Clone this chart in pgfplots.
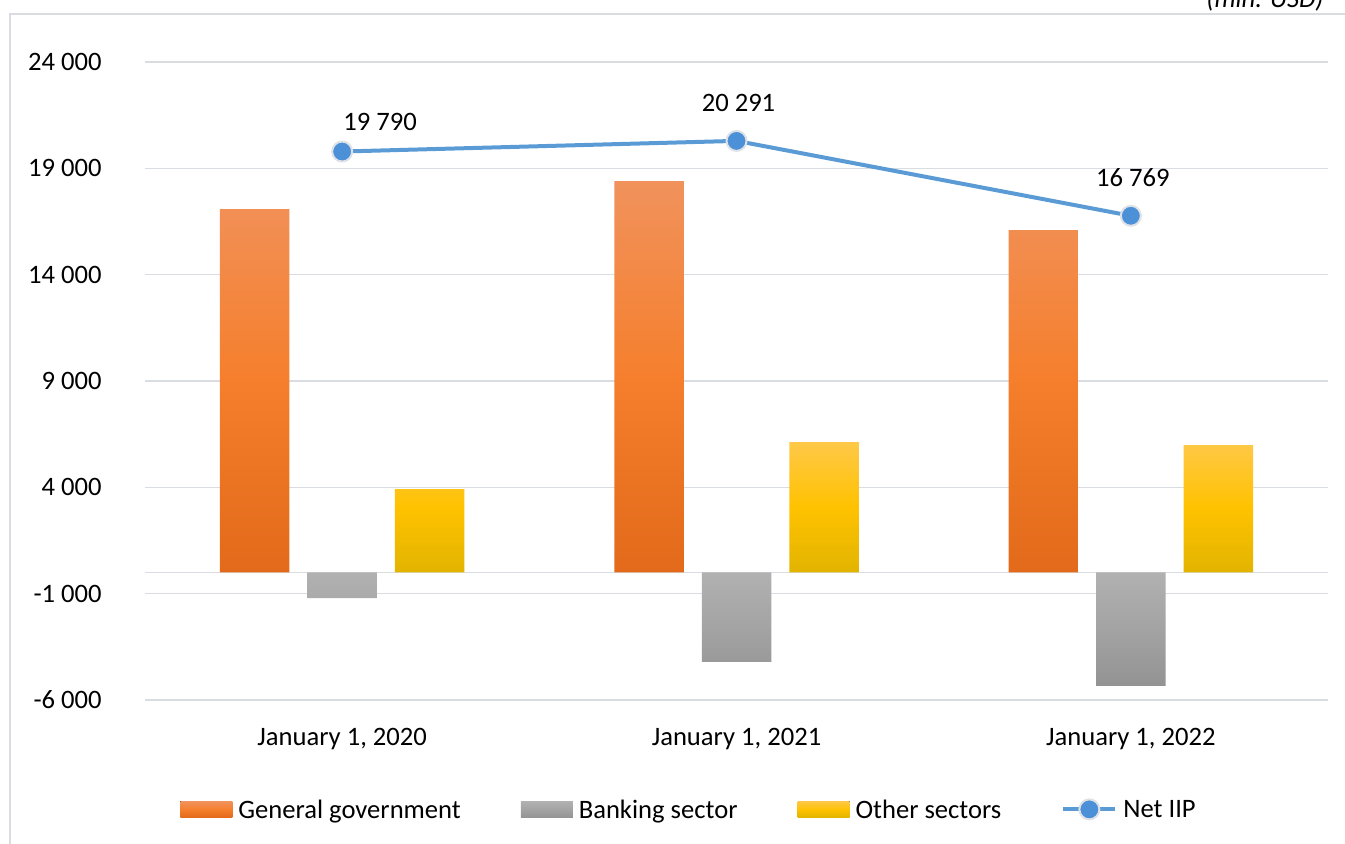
\documentclass[border=0pt]{standalone}
\usepackage{pgfplots}
\pgfplotsset{compat=1.18}
\usepackage{fontspec}
\setmainfont{Carlito}

\definecolor{gridgray}{RGB}{217,221,226}
\definecolor{ggtop}{RGB}{241,146,92}
\definecolor{ggmid}{RGB}{245,127,45}
\definecolor{ggbot}{RGB}{226,106,26}
\definecolor{bstop}{RGB}{177,177,177}
\definecolor{bsmid}{RGB}{163,163,163}
\definecolor{bsbot}{RGB}{147,147,147}
\definecolor{ostop}{RGB}{255,200,72}
\definecolor{osmid}{RGB}{255,194,0}
\definecolor{osbot}{RGB}{226,180,0}
\definecolor{netblue}{RGB}{91,155,213}
\definecolor{markblue}{RGB}{76,144,216}
\definecolor{markring}{RGB}{222,226,231}

\pgfplotsset{
  barlegend/.style={legend image code/.code={\fill[##1] (0pt,-3pt) rectangle (26pt,5pt);}},
  netlegend/.style={legend image code/.code={\draw[##1, mark repeat=2, mark phase=2]
      plot coordinates {(0pt,1pt) (13pt,1pt) (26pt,1pt)};}},
}

\begin{document}
\fontsize{13.3}{16}\selectfont
\begin{tikzpicture}
\useasboundingbox (0,0) rectangle (672.5pt,421.5pt);
% outer chart frame
\draw[gridgray, line width=0.75pt] (5pt,-5pt) rectangle (690pt,414.5pt);
\node[anchor=base east, font=\itshape, inner sep=0pt] at (662pt,417.5pt) {(mln. USD)};
\begin{axis}[
  at={(72.5pt,71.5pt)}, anchor=south west,
  scale only axis, width=591.5pt, height=319pt,
  xmin=-0.5, xmax=2.5, ymin=-6000, ymax=24000,
  scaled y ticks=false,
  xtick={0,1,2},
  xticklabels={{January 1, 2020},{January 1, 2021},{January 1, 2022}},
  ytick={-6000,-1000,4000,9000,14000,19000,24000},
  yticklabels={-6 000,-1 000,4 000,9 000,14 000,19 000,24 000},
  ymajorgrids, grid style={gridgray, line width=0.75pt},
  axis line style={draw=none}, major tick length=0pt, tick style={draw=none},
  yticklabel style={anchor=east, inner sep=0pt, xshift=-21.5pt},
  xticklabel style={anchor=base, inner sep=0pt, yshift=-22.5pt},
  legend columns=4,
  legend style={at={(rel axis cs:0,0)}, anchor=west, xshift=17.5pt, yshift=-55.5pt,
    draw=none, fill=none, inner sep=0pt, nodes={inner sep=0pt},
    /tikz/every odd column/.append style={column sep=3pt},
    /tikz/every even column/.append style={column sep=30pt}},
]
% zero line
\draw[gridgray, line width=0.75pt] (axis cs:-0.5,0) -- (axis cs:2.5,0);

\addplot[ybar, bar width=34.75pt, bar shift=-43.75pt, draw=none,
  top color=ggtop, bottom color=ggbot, middle color=ggmid, barlegend]
  coordinates {(0,17085) (1,18402) (2,16098)};
\addlegendentry{General government}

\addplot[ybar, bar width=34.75pt, bar shift=0pt, draw=none,
  top color=bstop, bottom color=bsbot, middle color=bsmid, barlegend]
  coordinates {(0,-1204) (1,-4212) (2,-5340)};
\addlegendentry{Banking sector}

\addplot[ybar, bar width=34.75pt, bar shift=43.75pt, draw=none,
  top color=ostop, bottom color=osbot, middle color=osmid, barlegend]
  coordinates {(0,3921) (1,6131) (2,5990)};
\addlegendentry{Other sectors}

\addplot[netblue, line width=2pt, mark=*, mark size=5pt,
  mark options={fill=markblue, draw=markring, line width=1pt}, netlegend]
  coordinates {(0,19790) (1,20291) (2,16769)};
\addlegendentry{Net IIP}

% value labels of the Net IIP points
\node[anchor=base, inner sep=0pt, xshift=19pt, yshift=10.7pt] at (axis cs:0,19790) {19 790};
\node[anchor=base, inner sep=0pt, xshift=1pt, yshift=14.6pt] at (axis cs:1,20291) {20 291};
\node[anchor=base, inner sep=0pt, xshift=1pt, yshift=14.5pt] at (axis cs:2,16769) {16 769};
\end{axis}
\end{tikzpicture}
\end{document}
